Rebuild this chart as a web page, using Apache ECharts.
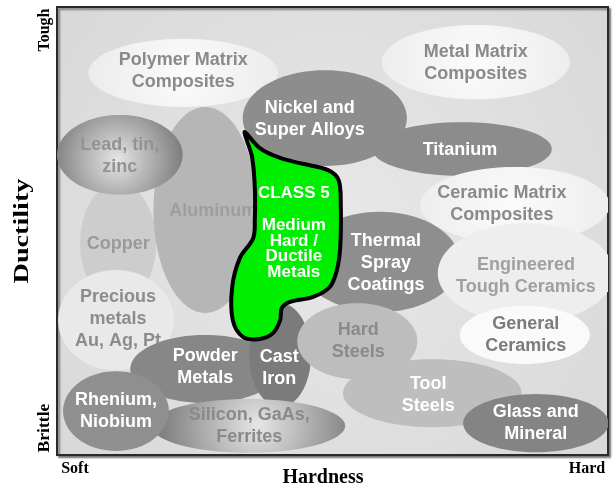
<!DOCTYPE html>
<html>
<head>
<meta charset="utf-8">
<script src="https://cdn.jsdelivr.net/npm/echarts@6/dist/echarts.min.js"></script>
<style>
  html, body { margin: 0; padding: 0; background: #fff; }
  #chart { width: 613px; height: 489px; }
</style>
</head>
<body>
<div id="chart"></div>
<script>
// material families, in drawing order (later ones sit on top)
var materials = [
  'Polymer Matrix\nComposites', 'Metal Matrix\nComposites', 'Copper', 'Aluminum',
  'Titanium', 'Nickel and\nSuper Alloys', 'Lead, tin,\nzinc', 'Precious\nmetals\nAu, Ag, Pt',
  'Thermal\nSpray\nCoatings', 'Ceramic Matrix\nComposites', 'Engineered\nTough Ceramics',
  'General\nCeramics', 'Powder\nMetals', 'Cast\nIron', 'Hard\nSteels',
  'Silicon, GaAs,\nFerrites', 'Rhenium,\nNiobium', 'Tool\nSteels', 'Glass and\nMineral'
];
// centre of each family (0 = soft / brittle, 100 = hard / tough)
var hardness  = [22.9, 76.0, 11.1, 26.9, 73.5, 48.6, 11.4, 10.7, 58.6, 83.1, 85.1, 84.9, 26.9, 40.5, 54.5, 34.7, 10.7, 68.1, 86.9];
var ductility = [85.3, 87.7, 47.3, 54.7, 68.3, 75.2, 67.0, 30.1, 43.1, 55.8, 40.6, 26.8, 19.2, 22.3, 25.4, 6.5, 9.8, 13.8, 7.1];
// half extent of each family along each axis
var hardnessSpread  = [17.2, 17.1, 6.9, 9.4, 16.3, 14.9, 11.4, 10.5, 14.5, 17.2, 16.0, 11.8, 13.6, 5.6, 10.9, 17.6, 9.6, 16.2, 13.2];
var ductilitySpread = [7.6, 8.3, 13.4, 23.0, 6.0, 10.7, 8.9, 11.2, 11.2, 8.5, 11.2, 6.5, 7.6, 11.6, 8.5, 6.0, 8.9, 7.6, 6.5];

// outline of the class 5 region
var classHardness  = [34.1, 36.8, 40.5, 44.6, 49.2, 51.1, 51.5, 51.4, 50.8, 49.5, 46.5, 42.3, 40.8, 40.5, 39.2, 36.8, 33.8, 31.9, 31.8, 33.2, 35.6, 35.9, 35.9, 35.4, 34.3];
var classDuctility = [72.1, 68.5, 66.3, 65.0, 63.6, 61.4, 55.8, 46.4, 41.3, 37.5, 35.3, 34.2, 32.8, 30.1, 27.2, 25.9, 26.3, 30.1, 37.5, 44.0, 48.4, 52.5, 59.8, 66.5, 70.8];
var classTitle = 'CLASS 5';
var classText = 'Medium\nHard /\nDuctile\nMetals';

var axisEnds = { x: ['Soft', 'Hard'], y: ['Brittle', 'Tough'] };

// styling
function radial(x, y, r, c0, c1) {
  return { type: 'radial', x: x, y: y, r: r, colorStops: [{ offset: 0, color: c0 }, { offset: 1, color: c1 }] };
}
function whiteish() { return radial(0.5, 0.5, 1.3, '#fbfbfb', '#ededed'); }
var fills = [
  whiteish(), whiteish(), '#cdcdcd', '#b6b6b6',
  '#8c8c8c', '#8d8d8d', radial(0.48, 0.56, 0.85, '#e6e6e6', '#7a7a7a'), '#e9e9e9',
  '#8e8e8e', whiteish(), '#eeeeee',
  '#fafafa', '#878787', '#7b7b7b', '#bdbdbd',
  radial(0.55, 0.5, 1.8, '#e6e6e6', '#7f7f7f'), '#8f8f8f', '#bebebe', '#848484'
];
var textColors = [
  '#8a8a8a', '#8a8a8a', '#9a9a9a', '#9e9e9e',
  '#ffffff', '#ffffff', '#939393', '#8c8c8c',
  '#ffffff', '#8a8a8a', '#a0a0a0',
  '#7b7b7b', '#ffffff', '#ffffff', '#8a8a8a',
  '#8a8a8a', '#ffffff', '#ffffff', '#ffffff'
];
// label nudge in px [dx, dy]
var labelShift = [
  [0, -2], [0, 1], [0, 1], [8, 1],
  [-2, 1], [-15, 1], [0, 1], [2, -1],
  [6, 1], [-13, -1], [0, 3],
  [1, 0], [0, -2], [-1, 13], [1, 0],
  [1, 0], [0, 0], [-4, 2], [0, 0]
];

var chart = echarts.init(document.getElementById('chart'));

var ellipseData = materials.map(function (m, i) {
  return [hardness[i], ductility[i], hardnessSpread[i], ductilitySpread[i], i];
});

function renderEllipse(params, api) {
  var i = api.value(4);
  var c = api.coord([api.value(0), api.value(1)]);
  var s = api.size([api.value(2), api.value(3)]);
  var pts = [];
  for (var k = 0; k < 72; k++) {
    var a = k / 72 * Math.PI * 2;
    pts.push([c[0] + s[0] * Math.cos(a), c[1] + s[1] * Math.sin(a)]);
  }
  return {
    type: 'group',
    children: [
      { type: 'polygon', shape: { points: pts }, style: { fill: fills[i] } },
      {
        type: 'text',
        x: c[0] + labelShift[i][0],
        y: c[1] + labelShift[i][1],
        style: {
          text: materials[i],
          fill: textColors[i],
          font: 'bold 18px "Liberation Sans", Arial, sans-serif',
          align: 'center',
          verticalAlign: 'middle',
          lineHeight: 22
        }
      }
    ]
  };
}

function renderClass(params, api) {
  var pts = classHardness.map(function (h, k) {
    return api.coord([h, classDuctility[k]]);
  });
  var mid = api.coord([42.8, 48]);
  return {
    type: 'group',
    children: [
      {
        type: 'polygon',
        shape: { points: pts, smooth: 0.35 },
        style: { fill: '#00ee00', stroke: '#000', lineWidth: 4, lineJoin: 'round' }
      },
      {
        type: 'text', x: mid[0] + 1, y: 193,
        style: { text: classTitle, fill: '#fff', font: 'bold 17px "Liberation Sans", Arial, sans-serif', align: 'center', verticalAlign: 'middle' }
      },
      {
        type: 'text', x: mid[0] + 1, y: 249,
        style: { text: classText, fill: '#fff', font: 'bold 17px "Liberation Sans", Arial, sans-serif', align: 'center', verticalAlign: 'middle', lineHeight: 15.5 }
      }
    ]
  };
}

var serif = '"Liberation Serif", "Times New Roman", serif';

chart.setOption({
  animation: false,
  backgroundColor: '#fff',
  grid: {
    left: 57, top: 7, right: 5, bottom: 34,
    show: true,
    backgroundColor: radial(0.5, 0.5, 0.75, '#e8e8e8', '#d9d9d9'),
    borderColor: '#2a2a2a',
    borderWidth: 2,
    shadowColor: 'rgba(0,0,0,0.45)',
    shadowBlur: 2,
    shadowOffsetX: 2,
    shadowOffsetY: 2
  },
  xAxis: { type: 'value', min: 0, max: 100, show: false },
  yAxis: { type: 'value', min: 0, max: 100, show: false },
  graphic: [
    { type: 'text', x: 75, y: 469, style: { text: axisEnds.x[0], font: 'bold 16px ' + serif, fill: '#000', align: 'center', verticalAlign: 'middle' } },
    { type: 'text', x: 587, y: 469, style: { text: axisEnds.x[1], font: 'bold 16px ' + serif, fill: '#000', align: 'center', verticalAlign: 'middle' } },
    { type: 'text', x: 323, y: 478, style: { text: 'Hardness', font: 'bold 20px ' + serif, fill: '#000', align: 'center', verticalAlign: 'middle' } },
    { type: 'text', x: 22, y: 231, rotation: Math.PI / 2, scaleX: 1.28, style: { text: 'Ductility', font: 'bold 22px ' + serif, fill: '#000', align: 'center', verticalAlign: 'middle' } },
    { type: 'text', x: 45, y: 30, rotation: Math.PI / 2, style: { text: axisEnds.y[1], font: 'bold 16px ' + serif, fill: '#000', align: 'center', verticalAlign: 'middle' } },
    { type: 'text', x: 45, y: 428, rotation: Math.PI / 2, scaleX: 1.1, style: { text: axisEnds.y[0], font: 'bold 16px ' + serif, fill: '#000', align: 'center', verticalAlign: 'middle' } }
  ],
  series: [
    { type: 'custom', clip: true, data: ellipseData, renderItem: renderEllipse, silent: true },
    { type: 'custom', clip: true, data: [[0]], renderItem: renderClass, silent: true }
  ]
});
</script>
</body>
</html>
